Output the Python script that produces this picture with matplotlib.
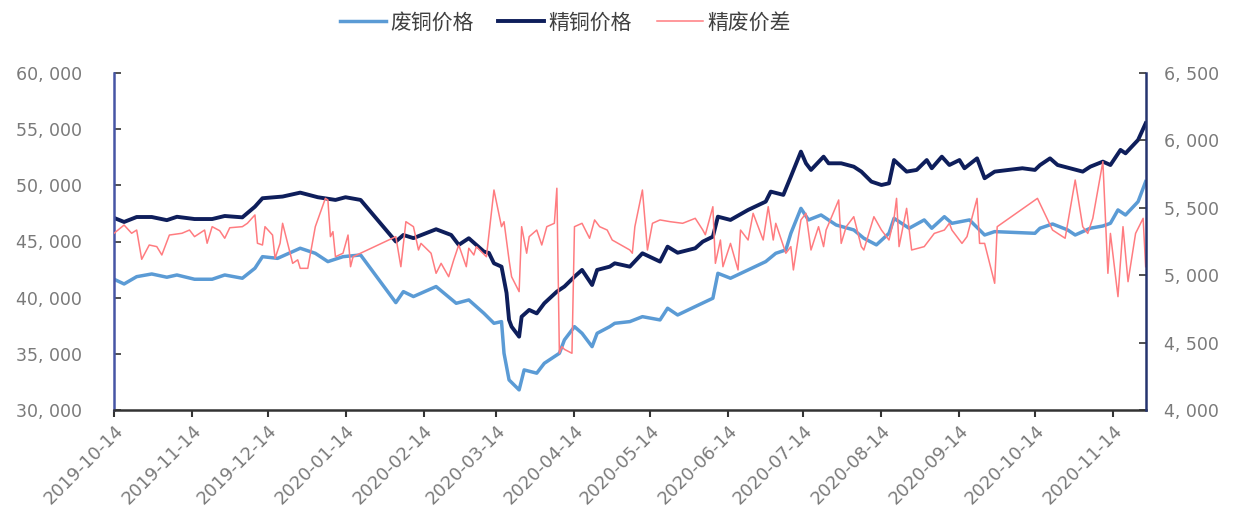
import pandas as pd
import matplotlib
matplotlib.use('Agg')
import matplotlib.pyplot as plt
import matplotlib.dates as mdates
from matplotlib.ticker import FuncFormatter, MultipleLocator

plt.rcParams['font.family'] = ['DejaVu Sans', 'Noto Sans CJK SC']

# 精铜价格 (left axis)
refined_dates = [
    "2019-10-14", "2019-10-18", "2019-10-23", "2019-10-29", "2019-11-04", "2019-11-08",
    "2019-11-15", "2019-11-22", "2019-11-27", "2019-12-04", "2019-12-09", "2019-12-12",
    "2019-12-20", "2019-12-27", "2020-01-03", "2020-01-10", "2020-01-14", "2020-01-20",
    "2020-02-03", "2020-02-06", "2020-02-10", "2020-02-19", "2020-02-25", "2020-02-28",
    "2020-03-03", "2020-03-09", "2020-03-11", "2020-03-13", "2020-03-16", "2020-03-18",
    "2020-03-19", "2020-03-20", "2020-03-23", "2020-03-24", "2020-03-27", "2020-03-30",
    "2020-04-02", "2020-04-07", "2020-04-10", "2020-04-14", "2020-04-17", "2020-04-21",
    "2020-04-23", "2020-04-28", "2020-04-30", "2020-05-06", "2020-05-11", "2020-05-18",
    "2020-05-21", "2020-05-25", "2020-06-01", "2020-06-04", "2020-06-08", "2020-06-10",
    "2020-06-15", "2020-06-22", "2020-06-29", "2020-07-01", "2020-07-06", "2020-07-09",
    "2020-07-13", "2020-07-15", "2020-07-17", "2020-07-22", "2020-07-24", "2020-07-29",
    "2020-08-03", "2020-08-06", "2020-08-10", "2020-08-14", "2020-08-17", "2020-08-19",
    "2020-08-24", "2020-08-28", "2020-09-01", "2020-09-03", "2020-09-07", "2020-09-10",
    "2020-09-14", "2020-09-16", "2020-09-21", "2020-09-24", "2020-09-28", "2020-10-09",
    "2020-10-14", "2020-10-16", "2020-10-20", "2020-10-23", "2020-11-02", "2020-11-05",
    "2020-11-10", "2020-11-13", "2020-11-17", "2020-11-19", "2020-11-24", "2020-11-27",
]
refined_price = [
    47100, 46740, 47180, 47180, 46900, 47200,
    47000, 47000, 47270, 47150, 48100, 48850,
    49000, 49350, 48940, 48700, 48940, 48700,
    45000, 45580, 45300, 46090, 45580, 44700,
    45290, 44100, 43980, 43060, 42760, 40420,
    38020, 37420, 36530, 38310, 38910, 38600,
    39500, 40540, 40990, 41870, 42470, 41130,
    42470, 42760, 43060, 42760, 43950, 43210,
    44540, 44000, 44400, 44990, 45430, 47210,
    46920, 47810, 48550, 49440, 49150, 50780,
    53000, 51960, 51370, 52550, 51960, 51960,
    51660, 51220, 50330, 50030, 50180, 52250,
    51220, 51370, 52250, 51520, 52550, 51810,
    52250, 51520, 52400, 50630, 51220, 51520,
    51370, 51800, 52400, 51810, 51220, 51660,
    52110, 51810, 53150, 52850, 54040, 55520,
]

# 废铜价格 (left axis)
scrap_dates = [
    "2019-10-14", "2019-10-18", "2019-10-23", "2019-10-29", "2019-11-04", "2019-11-08",
    "2019-11-15", "2019-11-22", "2019-11-27", "2019-12-04", "2019-12-09", "2019-12-12",
    "2019-12-18", "2019-12-27", "2020-01-02", "2020-01-07", "2020-01-13", "2020-01-20",
    "2020-02-03", "2020-02-06", "2020-02-10", "2020-02-19", "2020-02-27", "2020-03-03",
    "2020-03-09", "2020-03-13", "2020-03-16", "2020-03-17", "2020-03-19", "2020-03-23",
    "2020-03-25", "2020-03-30", "2020-04-02", "2020-04-08", "2020-04-10", "2020-04-14",
    "2020-04-17", "2020-04-21", "2020-04-23", "2020-04-28", "2020-04-30", "2020-05-06",
    "2020-05-11", "2020-05-18", "2020-05-21", "2020-05-25", "2020-06-01", "2020-06-08",
    "2020-06-10", "2020-06-15", "2020-06-22", "2020-06-29", "2020-07-03", "2020-07-07",
    "2020-07-09", "2020-07-13", "2020-07-16", "2020-07-21", "2020-07-27", "2020-08-03",
    "2020-08-07", "2020-08-12", "2020-08-17", "2020-08-19", "2020-08-25", "2020-08-31",
    "2020-09-03", "2020-09-08", "2020-09-11", "2020-09-18", "2020-09-24", "2020-09-28",
    "2020-10-14", "2020-10-16", "2020-10-21", "2020-10-27", "2020-10-30", "2020-11-05",
    "2020-11-10", "2020-11-13", "2020-11-16", "2020-11-19", "2020-11-24", "2020-11-27",
]
scrap_price = [
    41640, 41220, 41870, 42110, 41820, 42020,
    41640, 41640, 42020, 41730, 42620, 43650,
    43500, 44400, 43950, 43210, 43650, 43800,
    39560, 40540, 40100, 40990, 39500, 39800,
    38610, 37720, 37870, 35050, 32680, 31790,
    33570, 33280, 34160, 35050, 36240, 37420,
    36830, 35640, 36830, 37420, 37720, 37870,
    38310, 38020, 39060, 38460, 39210, 39950,
    42170, 41730, 42470, 43210, 43950, 44250,
    45730, 47950, 46920, 47360, 46470, 46030,
    45290, 44700, 45730, 47060, 46180, 46920,
    46180, 47210, 46620, 46920, 45580, 45880,
    45730, 46180, 46560, 46030, 45580, 46180,
    46380, 46620, 47810, 47360, 48550, 50330,
]

# 精废价差 (right axis)
spread_dates = [
    "2019-10-14", "2019-10-18", "2019-10-21", "2019-10-23", "2019-10-25", "2019-10-28",
    "2019-10-31", "2019-11-02", "2019-11-05", "2019-11-10", "2019-11-13", "2019-11-15",
    "2019-11-19", "2019-11-20", "2019-11-22", "2019-11-25", "2019-11-27", "2019-11-29",
    "2019-12-04", "2019-12-06", "2019-12-09", "2019-12-10", "2019-12-12", "2019-12-13",
    "2019-12-16", "2019-12-17", "2019-12-19", "2019-12-20", "2019-12-23", "2019-12-24",
    "2019-12-26", "2019-12-27", "2019-12-30", "2020-01-02", "2020-01-06", "2020-01-07",
    "2020-01-08", "2020-01-09", "2020-01-10", "2020-01-13", "2020-01-15", "2020-01-16",
    "2020-01-17", "2020-02-03", "2020-02-05", "2020-02-07", "2020-02-10", "2020-02-12",
    "2020-02-13", "2020-02-17", "2020-02-19", "2020-02-21", "2020-02-24", "2020-02-26",
    "2020-02-28", "2020-03-02", "2020-03-03", "2020-03-05", "2020-03-06", "2020-03-10",
    "2020-03-13", "2020-03-16", "2020-03-17", "2020-03-19", "2020-03-20", "2020-03-23",
    "2020-03-24", "2020-03-26", "2020-03-27", "2020-03-30", "2020-04-01", "2020-04-03",
    "2020-04-06", "2020-04-07", "2020-04-08", "2020-04-09", "2020-04-10", "2020-04-13",
    "2020-04-14", "2020-04-17", "2020-04-20", "2020-04-22", "2020-04-24", "2020-04-27",
    "2020-04-29", "2020-05-06", "2020-05-07", "2020-05-08", "2020-05-11", "2020-05-13",
    "2020-05-15", "2020-05-18", "2020-05-22", "2020-05-27", "2020-06-01", "2020-06-04",
    "2020-06-05", "2020-06-08", "2020-06-09", "2020-06-11", "2020-06-12", "2020-06-15",
    "2020-06-18", "2020-06-19", "2020-06-22", "2020-06-24", "2020-06-28", "2020-06-30",
    "2020-07-02", "2020-07-03", "2020-07-07", "2020-07-09", "2020-07-10", "2020-07-13",
    "2020-07-15", "2020-07-17", "2020-07-20", "2020-07-22", "2020-07-23", "2020-07-28",
    "2020-07-29", "2020-07-31", "2020-08-03", "2020-08-06", "2020-08-07", "2020-08-11",
    "2020-08-14", "2020-08-17", "2020-08-19", "2020-08-20", "2020-08-21", "2020-08-24",
    "2020-08-26", "2020-08-31", "2020-09-02", "2020-09-04", "2020-09-08", "2020-09-10",
    "2020-09-11", "2020-09-15", "2020-09-17", "2020-09-21", "2020-09-22", "2020-09-24",
    "2020-09-28", "2020-09-29", "2020-10-15", "2020-10-21", "2020-10-26", "2020-10-30",
    "2020-11-02", "2020-11-04", "2020-11-06", "2020-11-10", "2020-11-12", "2020-11-13",
    "2020-11-16", "2020-11-18", "2020-11-20", "2020-11-23", "2020-11-26", "2020-11-27",
]
spread = [
    5311, 5372, 5311, 5335, 5118, 5224,
    5212, 5150, 5298, 5311, 5335, 5286,
    5335, 5237, 5360, 5330, 5274, 5352,
    5360, 5385, 5447, 5237, 5224, 5360,
    5298, 5125, 5237, 5385, 5163, 5088,
    5114, 5051, 5051, 5360, 5570, 5558,
    5286, 5323, 5137, 5163, 5298, 5063,
    5137, 5286, 5063, 5397, 5360, 5187,
    5236, 5163, 5014, 5088, 4989, 5113,
    5224, 5063, 5200, 5150, 5212, 5137,
    5632, 5360, 5397, 5113, 4989, 4878,
    5360, 5163, 5286, 5335, 5224, 5360,
    5385, 5645, 4421, 4470, 4450, 4421,
    5360, 5385, 5274, 5410, 5360, 5335,
    5261, 5187, 5163, 5360, 5632, 5187,
    5385, 5410, 5397, 5385, 5422, 5335,
    5300, 5508, 5088, 5261, 5063, 5236,
    5039, 5335, 5261, 5459, 5261, 5508,
    5261, 5385, 5163, 5212, 5039, 5410,
    5459, 5187, 5360, 5212, 5335, 5558,
    5236, 5360, 5434, 5212, 5187, 5434,
    5335, 5261, 5422, 5570, 5212, 5496,
    5187, 5212, 5261, 5310, 5335, 5385,
    5335, 5236, 5286, 5570, 5236, 5236,
    4940, 5360, 5570, 5335, 5274, 5706,
    5360, 5310, 5422, 5842, 5014, 5310,
    4841, 5360, 4952, 5310, 5422, 5063,
]

refined_dates = pd.to_datetime(refined_dates)
scrap_dates = pd.to_datetime(scrap_dates)
spread_dates = pd.to_datetime(spread_dates)

fig = plt.figure(figsize=(12.34, 5.25), dpi=100)
ax = fig.add_axes([0.0924, 0.219, 0.836, 0.642])
ax2 = ax.twinx()

l1, = ax.plot(scrap_dates, scrap_price, color='#5B9BD5', lw=2.5, label='废铜价格')
l2, = ax.plot(refined_dates, refined_price, color='#0E1E5B', lw=2.8, label='精铜价格')
l3, = ax2.plot(spread_dates, spread, color='#FF7C80', lw=1.1, label='精废价差')

ax.set_xlim(refined_dates[0], refined_dates[-1])
ax.set_ylim(30000, 60000)
ax2.set_ylim(4000, 6500)
ax.yaxis.set_major_locator(MultipleLocator(5000))
ax2.yaxis.set_major_locator(MultipleLocator(500))

fmt = FuncFormatter(lambda v, p: f'{v:,.0f}'.replace(',', ', '))
ax.yaxis.set_major_formatter(fmt)
ax2.yaxis.set_major_formatter(fmt)

ax.xaxis.set_major_locator(mdates.MonthLocator(bymonthday=14))
ax.xaxis.set_major_formatter(mdates.DateFormatter('%Y-%m-%d'))

for a in (ax, ax2):
    a.spines['top'].set_visible(False)
ax2.spines['left'].set_visible(False)
ax2.spines['bottom'].set_visible(False)
ax.spines['right'].set_visible(False)
ax.spines['left'].set_color('#4655A5')
ax.spines['left'].set_linewidth(1.8)
ax2.spines['right'].set_color('#25346F')
ax2.spines['right'].set_linewidth(1.8)
ax.spines['bottom'].set_color('#333333')
ax.spines['bottom'].set_linewidth(1.8)

gray = '#7A7A7A'
ax.tick_params(axis='y', direction='in', length=5, width=1.2, color='#333333',
               labelsize=12.5, labelcolor=gray, pad=23)
ax2.tick_params(axis='y', direction='in', length=5, width=1.2, color='#333333',
                labelsize=12.5, labelcolor=gray, pad=13)
ax.tick_params(axis='x', direction='out', length=5, width=1.5, color='#333333',
               labelsize=13, labelcolor=gray, pad=3)
for lab in ax.get_xticklabels():
    lab.set_rotation(45)
    lab.set_ha('right')
    lab.set_rotation_mode('anchor')

fig.legend([l1, l2, l3], ['废铜价格', '精铜价格', '精废价差'], loc='center',
           bbox_to_anchor=(0.458, 0.957), ncol=3, frameon=False,
           prop={'family': ['Noto Sans CJK SC', 'DejaVu Sans'], 'size': 15},
           labelcolor='#404040', handlelength=2.2, handletextpad=0.2,
           columnspacing=1.2)

fig.savefig('out.png', dpi=100)
